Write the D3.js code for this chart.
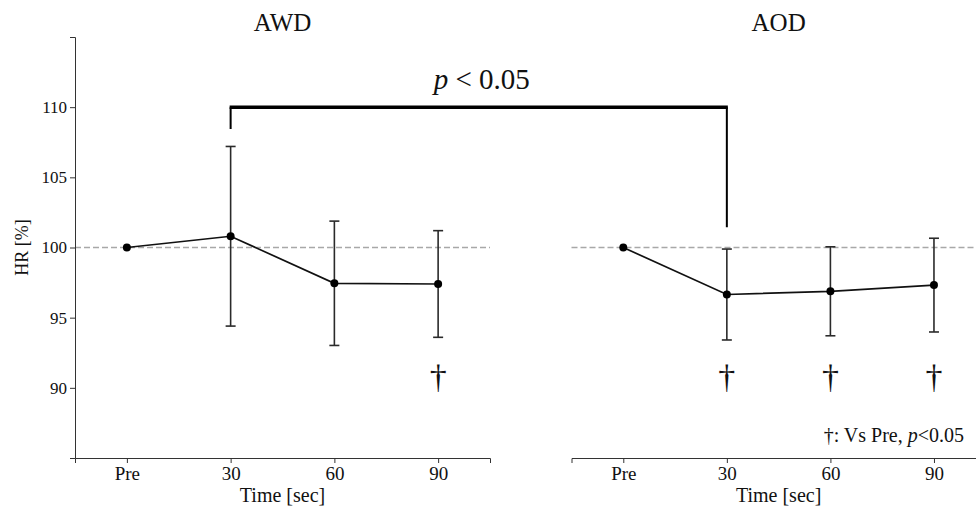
<!DOCTYPE html>
<html>
<head>
<meta charset="utf-8">
<script src="https://cdn.jsdelivr.net/npm/d3@7"></script>
<style>
  body { margin: 0; background: #fff; }
  svg text { font-family: "Liberation Serif", "Times New Roman", serif; fill: #111; }
</style>
</head>
<body>
<div id="chart"></div>
<script>
const timeLabels = ["Pre", "30", "60", "90"];
const awdMean = [100, 100.8, 97.45, 97.4];
const awdErr  = [0, 6.4, 4.43, 3.8];
const awdDagger = [false, false, false, true];
const aodMean = [100, 96.65, 96.88, 97.32];
const aodErr  = [0, 3.24, 3.17, 3.34];
const aodDagger = [false, true, true, true];
const yTicks = [90, 95, 100, 105, 110];
const baseline = 100;
// bracket between AWD 30s and AOD 30s: bar level, left leg end, right leg end
const bracketLevels = [110, 108.45, 101.45];

const W = 976, H = 510;
const svg = d3.select("#chart").append("svg")
  .attr("width", W).attr("height", H);

const y = d3.scaleLinear().domain([85, 115]).range([458, 37]);
const idx = d3.range(timeLabels.length);

function drawPanel(x0, x1, title, mean, err, dagger, showY) {
  const x = d3.scaleLinear().domain([-0.5, 3.5]).range([x0, x1]);
  const g = svg.append("g");

  // reference line at 100
  g.append("line")
    .attr("x1", x0).attr("x2", Math.min(x1, W))
    .attr("y1", y(baseline)).attr("y2", y(baseline))
    .attr("stroke", "#a8a8a8").attr("stroke-width", 1.3)
    .attr("stroke-dasharray", "6,3");

  // x axis
  const xAxis = g.append("g")
    .attr("transform", `translate(0,${y(85)})`)
    .call(d3.axisBottom(x).tickValues(idx).tickFormat(i => timeLabels[i])
      .tickSizeOuter(0).tickSize(5).tickPadding(4));
  xAxis.select(".domain").attr("stroke", "#333");
  xAxis.selectAll(".tick line").attr("stroke", "#333");
  xAxis.selectAll("text").style("font-size", "19px").attr("fill", "#111");

  g.append("text")
    .attr("x", x(1.5)).attr("y", 502)
    .attr("text-anchor", "middle")
    .style("font-size", "20px")
    .text("Time [sec]");

  if (showY) {
    const yAxis = g.append("g")
      .attr("transform", `translate(${x0},0)`)
      .call(d3.axisLeft(y).tickValues(yTicks).tickSizeOuter(0).tickSize(5).tickPadding(3));
    yAxis.select(".domain").attr("stroke", "#333");
    yAxis.selectAll(".tick line").attr("stroke", "#333");
    yAxis.selectAll("text").style("font-size", "17px").attr("fill", "#111");

    g.append("text")
      .attr("transform", `translate(28,${y(baseline)}) rotate(-90)`)
      .attr("text-anchor", "middle")
      .style("font-size", "18px")
      .text("HR [%]");
  }

  g.append("text")
    .attr("x", x(1.5)).attr("y", 31)
    .attr("text-anchor", "middle")
    .style("font-size", "25px")
    .text(title);

  // error bars
  const eb = g.selectAll(".err").data(idx.filter(i => err[i] > 0)).enter()
    .append("g").attr("class", "err")
    .attr("stroke", "#2a2a2a").attr("stroke-width", 1.6);
  eb.append("line")
    .attr("x1", i => x(i)).attr("x2", i => x(i))
    .attr("y1", i => y(mean[i] + err[i])).attr("y2", i => y(mean[i] - err[i]));
  eb.append("line")
    .attr("x1", i => x(i) - 5).attr("x2", i => x(i) + 5)
    .attr("y1", i => y(mean[i] + err[i])).attr("y2", i => y(mean[i] + err[i]));
  eb.append("line")
    .attr("x1", i => x(i) - 5).attr("x2", i => x(i) + 5)
    .attr("y1", i => y(mean[i] - err[i])).attr("y2", i => y(mean[i] - err[i]));

  // mean line + points
  g.append("path")
    .datum(idx)
    .attr("fill", "none").attr("stroke", "#111").attr("stroke-width", 1.7)
    .attr("d", d3.line().x(i => x(i)).y(i => y(mean[i])));
  g.selectAll(".pt").data(idx).enter()
    .append("circle").attr("class", "pt")
    .attr("cx", i => x(i)).attr("cy", i => y(mean[i]))
    .attr("r", 4).attr("fill", "#000");

  // daggers
  g.selectAll(".dag").data(idx.filter(i => dagger[i])).enter()
    .append("text").attr("class", "dag")
    .attr("x", i => x(i)).attr("y", y(90))
    .attr("text-anchor", "middle")
    .style("font-size", "34px")
    .text("\u2020");

  return x;
}

const xL = drawPanel(75, 490, "AWD", awdMean, awdErr, awdDagger, true);
const xR = drawPanel(571.5, 985.75, "AOD", aodMean, aodErr, aodDagger, false);

// significance bracket
const bx1 = xL(1), bx2 = xR(1);
svg.append("path")
  .attr("fill", "none").attr("stroke", "#000").attr("stroke-width", 2)
  .attr("d", `M${bx1},${y(bracketLevels[1])}V${y(bracketLevels[0])}M${bx2},${y(bracketLevels[0])}V${y(bracketLevels[2])}`);
svg.append("line")
  .attr("x1", bx1 - 1).attr("x2", bx2 + 1)
  .attr("y1", y(bracketLevels[0])).attr("y2", y(bracketLevels[0]))
  .attr("stroke", "#000").attr("stroke-width", 3.5);

const pText = svg.append("text")
  .attr("x", (bx1 + bx2) / 2 + 3).attr("y", 89)
  .attr("text-anchor", "middle")
  .style("font-size", "29px");
pText.append("tspan").style("font-style", "italic").text("p");
pText.append("tspan").text(" < 0.05");

// footnote
const note = svg.append("text")
  .attr("x", 964).attr("y", 442)
  .attr("text-anchor", "end")
  .style("font-size", "20px");
note.append("tspan").text("\u2020: Vs Pre, ");
note.append("tspan").style("font-style", "italic").text("p");
note.append("tspan").text("<0.05");
</script>
</body>
</html>
